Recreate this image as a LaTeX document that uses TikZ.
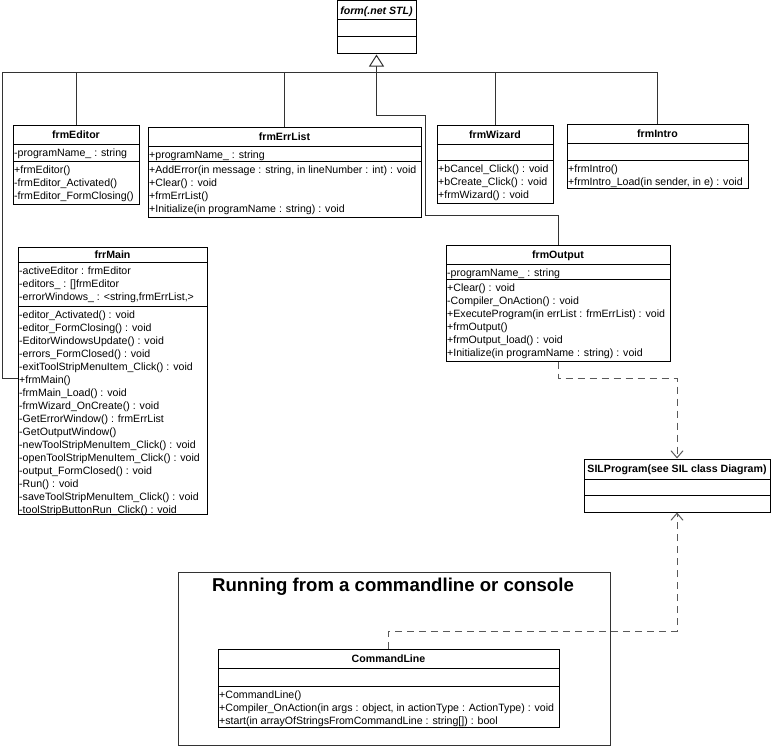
\documentclass[tikz,border=0pt]{standalone}
\usepackage{fontspec}
\setmainfont{Liberation Sans}
\usetikzlibrary{arrows.meta,fit}

\tikzset{
  x=1bp, y=-1bp,
  classbox/.style={draw=black, line width=1bp, inner sep=0pt},
  divider/.style={draw=black, line width=1bp},
  ctitle/.style={font=\bfseries\fontsize{10.6bp}{13bp}\selectfont, inner sep=0pt,
    text height=7.6bp, text depth=0pt},
  crows/.style={font=\fontsize{10.6bp}{13bp}\selectfont, align=left, anchor=north west,
    inner xsep=1bp, inner ysep=3bp},
  conn/.style={draw=black!80, line width=1bp},
  inherit/.style={conn, -{Triangle[open, length=12bp, width=15bp, fill=white]}},
  depend/.style={conn, draw=black!65, dash pattern=on 7bp off 5bp,
    -{Straight Barb[length=7bp, width=12bp]}},
  frame/.style={draw=black!80, line width=1bp, inner sep=0pt},
}

% UML class outline: name, left, right, top, first divider, second divider, bottom
\newcommand\umlclass[7]{%
  \node[classbox, fit={(#2,#4) (#3,#7)}] (#1) {};
  \draw[divider] (#2,#5) -- (#3,#5);
  \draw[divider] (#2,#6) -- (#3,#6);
  \coordinate (#1-t) at ({(#2+#3)/2},{(#4+#5)/2});
  \coordinate (#1-a) at (#2,#5);
  \coordinate (#1-m) at (#2,#6);
}

\begin{document}
\begin{tikzpicture}
\useasboundingbox (0,0) rectangle (771,746);

% base class
\umlclass{form}{337}{416}{1}{20}{37}{54}
\node[ctitle, font=\bfseries\itshape\fontsize{10.6bp}{13bp}\selectfont] (form-title) at (form-t) {form(.net STL)};

% frmEditor
\umlclass{frmEditor}{13}{139}{125}{144}{161}{204}
\node[ctitle] (frmEditor-title) at (frmEditor-t) {frmEditor};
\node[crows] (frmEditor-attrs) at (frmEditor-a) {\strut-programName\_ : string};
\node[crows] (frmEditor-ops) at (frmEditor-m) {\strut+frmEditor()\\-frmEditor\_Activated()\\-frmEditor\_FormClosing()};

% frmErrList
\umlclass{frmErrList}{148}{421}{127}{146}{161}{217}
\node[ctitle] (frmErrList-title) at (frmErrList-t) {frmErrList};
\node[crows] (frmErrList-attrs) at (frmErrList-a) {\strut+programName\_ : string};
\node[crows] (frmErrList-ops) at (frmErrList-m) {\strut+AddError(in message : string, in lineNumber : int) : void\\+Clear() : void\\+frmErrList()\\+Initialize(in programName : string) : void};

% frmWizard
\umlclass{frmWizard}{437}{553}{125}{144}{160}{203}
\node[ctitle] (frmWizard-title) at (frmWizard-t) {frmWizard};
\node[crows] (frmWizard-ops) at (frmWizard-m) {\strut+bCancel\_Click() : void\\+bCreate\_Click() : void\\+frmWizard() : void};

% frmIntro
\umlclass{frmIntro}{567}{748}{124}{143}{160}{188}
\node[ctitle] (frmIntro-title) at (frmIntro-t) {frmIntro};
\node[crows] (frmIntro-ops) at (frmIntro-m) {\strut+frmIntro()\\+frmIntro\_Load(in sender, in e) : void};

% frrMain
\umlclass{frrMain}{18}{207}{247}{262}{306}{514}
\node[ctitle] (frrMain-title) at (frrMain-t) {frrMain};
\node[crows] (frrMain-attrs) at (frrMain-a) {\strut-activeEditor : frmEditor\\-editors\_ : []frmEditor\\-errorWindows\_ : <string,frmErrList,>};
\node[crows] (frrMain-ops) at (frrMain-m) {\strut-editor\_Activated() : void\\-editor\_FormClosing() : void\\-EditorWindowsUpdate() : void\\-errors\_FormClosed() : void\\-exitToolStripMenuItem\_Click() : void\\+frmMain()\\-frmMain\_Load() : void\\-frmWizard\_OnCreate() : void\\-GetErrorWindow() : frmErrList\\-GetOutputWindow()\\-newToolStripMenuItem\_Click() : void\\-openToolStripMenuItem\_Click() : void\\-output\_FormClosed() : void\\-Run() : void\\-saveToolStripMenuItem\_Click() : void\\-toolStripButtonRun\_Click() : void};

% frmOutput
\umlclass{frmOutput}{446}{670}{245}{264}{279}{361}
\node[ctitle] (frmOutput-title) at (frmOutput-t) {frmOutput};
\node[crows] (frmOutput-attrs) at (frmOutput-a) {\strut-programName\_ : string};
\node[crows] (frmOutput-ops) at (frmOutput-m) {\strut+Clear() : void\\-Compiler\_OnAction() : void\\+ExecuteProgram(in errList : frmErrList) : void\\+frmOutput()\\+frmOutput\_load() : void\\+Initialize(in programName : string) : void};

% SILProgram
\umlclass{SILProgram}{584}{770}{459}{479}{495}{512}
\node[ctitle] (SILProgram-title) at (SILProgram-t) {SILProgram(see SIL class Diagram)};

% console frame and CommandLine
\node[frame, fit={(178,572) (610,745)}] (console) {};
\node[font=\bfseries\fontsize{18.6bp}{22bp}\selectfont, inner sep=0pt] (console-title) at (393,587) {Running from a commandline or console};
\umlclass{CommandLine}{218}{559}{649}{668}{686}{727}
\node[ctitle] (CommandLine-title) at (CommandLine-t) {CommandLine};
\node[crows] (CommandLine-ops) at (CommandLine-m) {\strut+CommandLine()\\+Compiler\_OnAction(in args : object, in actionType : ActionType) : void\\+start(in arrayOfStringsFromCommandLine : string[]) : bool};

% generalization tree
\coordinate (barL) at (2,72);
\coordinate (mainhook) at (18,378);
\draw[conn] (mainhook) -| (barL) -| (frmIntro.north);
\draw[conn] (frmEditor.north) -- (frmEditor.north |- barL);
\draw[conn] (frmErrList.north) -- (frmErrList.north |- barL);
\draw[conn] (frmWizard.north) -- (frmWizard.north |- barL);
\coordinate (j1) at (425,115);
\coordinate (j2) at (425,215);
\draw[inherit] (frmOutput.north) |- (j2) -- (j1) -| (form.south);

% dependencies on SILProgram
\coordinate (d1) at (677,378);
\coordinate (d2) at (677,631);
\draw[depend] (frmOutput.south) |- (d1) -- (SILProgram.north);
\draw[depend] (CommandLine.north) |- (d2) -- (SILProgram.south);
\end{tikzpicture}
\end{document}
